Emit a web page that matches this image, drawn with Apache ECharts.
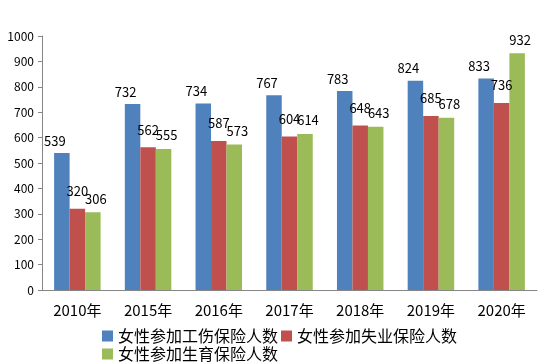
<!DOCTYPE html>
<html><head><meta charset="utf-8">
<script src="https://cdn.jsdelivr.net/npm/echarts@6/dist/echarts.min.js"></script>
<style>html,body{margin:0;padding:0;background:#fff}#c{width:554px;height:362px}</style>
</head><body><div id="c"></div>
<script>
const categories = ['2010年','2015年','2016年','2017年','2018年','2019年','2020年'];
const injury = [539,732,734,767,783,824,833];
const unemployment = [320,562,587,604,648,685,736];
const maternity = [306,555,573,614,643,678,932];
const seriesNames = ['女性参加工伤保险人数','女性参加失业保险人数','女性参加生育保险人数'];
const yTicks = {min:0, max:1000, interval:100};

const font = '"Noto Sans CJK SC", "Liberation Sans", sans-serif';
const chart = echarts.init(document.getElementById('c'));
function lbl(offset){
  return {show:true, position:'top', distance:5, offset:offset, color:'#000', fontSize:13, fontFamily:font};
}
chart.setOption({
  animation:false,
  grid:{left:42, right:17, top:36, bottom:72},
  legend:[
    {data:[seriesNames[0], seriesNames[1]], left:97, top:323, itemWidth:11, itemHeight:11, itemGap:3, icon:'rect',
     textStyle:{fontSize:16, color:'#000', fontFamily:font}},
    {data:[seriesNames[2]], left:97, top:341, itemWidth:11, itemHeight:11, itemGap:3, icon:'rect',
     textStyle:{fontSize:16, color:'#000', fontFamily:font}}
  ],
  xAxis:{type:'category', data:categories,
    axisLine:{lineStyle:{color:'#868686'}}, axisTick:{show:false},
    axisLabel:{color:'#000', fontSize:15, margin:13, fontFamily:font}},
  yAxis:{type:'value', min:yTicks.min, max:yTicks.max, interval:yTicks.interval,
    axisLine:{show:true, lineStyle:{color:'#868686'}}, axisTick:{show:true, length:4, lineStyle:{color:'#868686'}},
    splitLine:{show:false},
    axisLabel:{color:'#000', fontSize:12, margin:8, fontFamily:font, formatter:function(v){return String(v);}}},
  series:[
    {name:seriesNames[0], type:'bar', data:injury, barWidth:15.5, barGap:'0%', itemStyle:{color:'#4F81BD'}, label:lbl([-7,-1])},
    {name:seriesNames[1], type:'bar', data:unemployment, barWidth:15.5, barGap:'0%', itemStyle:{color:'#C0504D'}, label:lbl([0,-6])},
    {name:seriesNames[2], type:'bar', data:maternity, barWidth:15.5, barGap:'0%', itemStyle:{color:'#9BBB59'}, label:lbl([3,-2])}
  ]
});
</script></body></html>
